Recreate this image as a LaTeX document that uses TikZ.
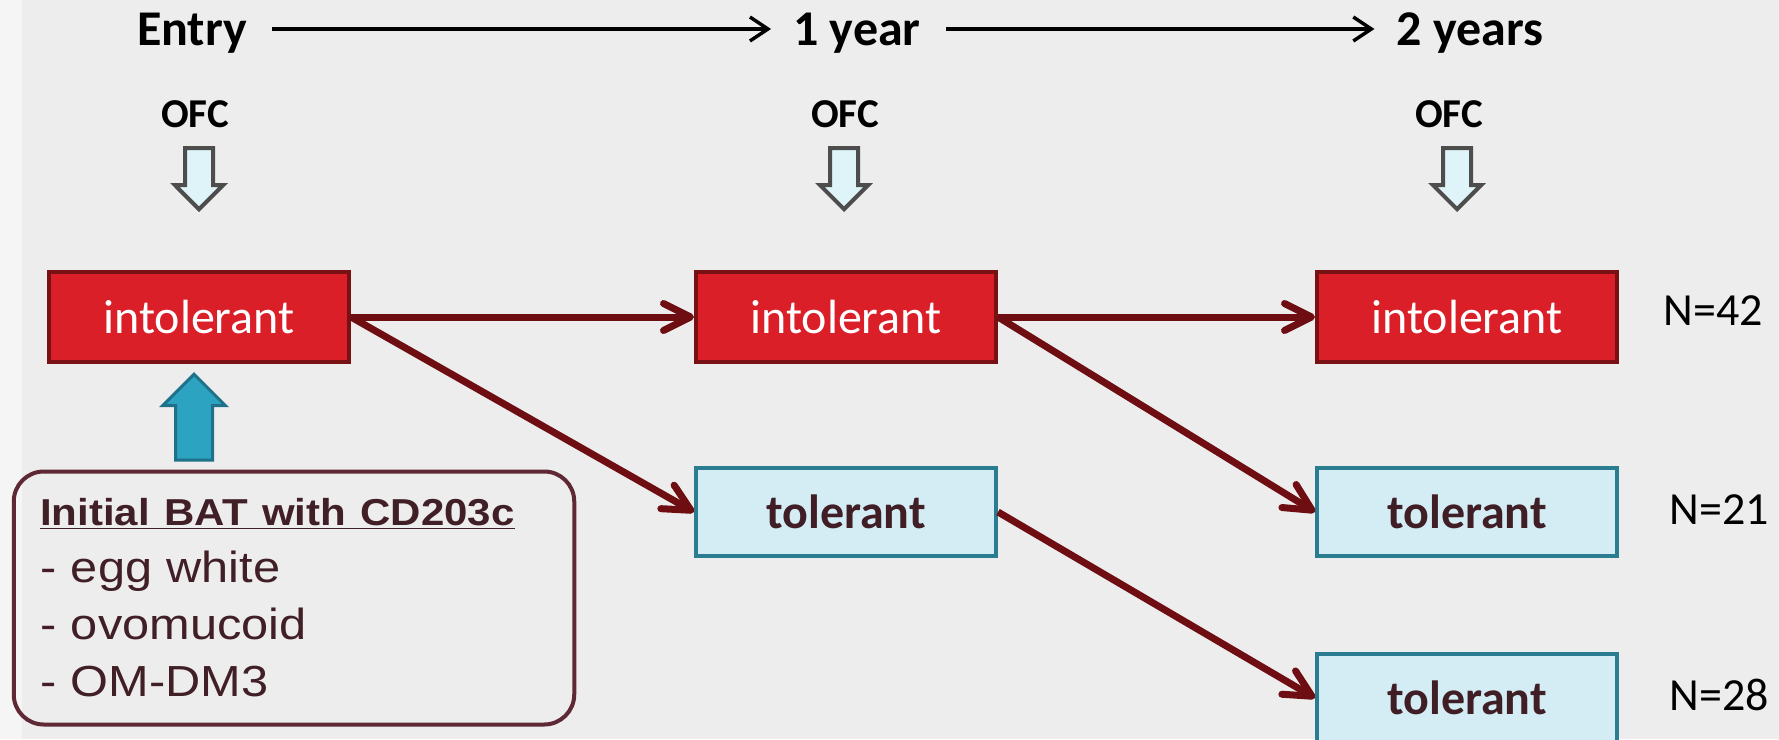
\documentclass[tikz,border=0pt]{standalone}
\usepackage{fontspec}
\setmainfont{Carlito}
\newfontfamily\batfont{Liberation Sans}[FakeStretch=1.12]
\usetikzlibrary{arrows.meta,shapes.arrows}

\definecolor{bgcol}{RGB}{238,237,238}
\definecolor{bgleft}{RGB}{245,245,245}
\definecolor{redfill}{RGB}{218,31,40}
\definecolor{redline}{RGB}{120,17,20}
\definecolor{flowcol}{RGB}{110,14,18}
\definecolor{tolfill}{RGB}{212,237,245}
\definecolor{tolline}{RGB}{42,125,144}
\definecolor{toltext}{RGB}{63,30,38}
\definecolor{batline}{RGB}{94,40,52}
\definecolor{battext}{RGB}{64,31,38}
\definecolor{upfill}{RGB}{44,163,193}
\definecolor{upline}{RGB}{31,113,137}
\definecolor{ofcfill}{RGB}{222,244,249}
\definecolor{ofcline}{RGB}{77,77,77}

\begin{document}
\begin{tikzpicture}[x=1pt, y=-1pt, >={Straight Barb[length=18pt,width=24pt]}]
  \tikzstyle{every node}=[inner sep=0pt]
  \tikzstyle{stage}=[font=\bfseries\fontsize{50}{60}\selectfont, text depth=0pt]
  \tikzstyle{ofc}=[font=\bfseries\fontsize{41}{49}\selectfont, text depth=0pt]
  \tikzstyle{check}=[single arrow, rotate=-90, anchor=tip, draw=ofcline, fill=ofcfill, line width=4pt,
                     inner sep=12pt, single arrow head extend=10pt, minimum height=61pt, minimum width=0pt]
  \tikzstyle{intol}=[draw=redline, fill=redfill, line width=4pt, minimum width=300pt, minimum height=90pt,
                     text=white, font=\fontsize{48}{58}\selectfont]
  \tikzstyle{tol}=[draw=tolline, fill=tolfill, line width=4pt, minimum width=300pt, minimum height=88pt,
                   text=toltext, font=\bfseries\fontsize{48}{58}\selectfont]
  \tikzstyle{count}=[font=\fontsize{46}{55}\selectfont, text depth=0pt]
  \tikzstyle{flow}=[flowcol, line width=7pt, -{Straight Barb[length=27pt,width=27pt,round]}]

  \useasboundingbox (0,0) rectangle (1779,739);
  \fill[bgcol] (0,0) rectangle (1779,739);
  \fill[bgleft] (0,0) rectangle (22,739);

  % time line
  \node[stage] (entry) at (192,29)  {Entry};
  \node[stage] (yr1)   at (857,29)  {1 year};
  \node[stage] (yr2)   at (1470,29) {2 years};
  \draw[->, line width=3.5pt, shorten <=25pt, shorten >=22pt] (entry) -- (yr1);
  \draw[->, line width=3.5pt, shorten <=25pt, shorten >=22pt] (yr1) -- (yr2);

  % food challenges
  \node[ofc] (ofc0) at (195,114)  {OFC};
  \node[ofc] (ofc1) at (845,114)  {OFC};
  \node[ofc] (ofc2) at (1449,114) {OFC};
  \node[check] (chk0) at (199,212)  {};
  \node[check] (chk1) at (844,212)  {};
  \node[check] (chk2) at (1457,212) {};

  % outcomes
  \node[intol] (in0)  at (199,317)  {intolerant};
  \node[intol] (in1)  at (846,317)  {intolerant};
  \node[intol] (in2)  at (1467,317) {intolerant};
  \node[tol]   (tol1) at (846,512)  {tolerant};
  \node[tol]   (tol2) at (1467,512) {tolerant};
  \node[tol]   (tol3) at (1467,698) {tolerant};

  \node[count] (n42) at (1713,311) {N=42};
  \node[count] (n21) at (1719,510) {N=21};
  \node[count] (n28) at (1719,695) {N=28};

  % basophil test
  \node[single arrow, rotate=90, anchor=tip, draw=upline, fill=upfill, line width=3pt, inner sep=17pt,
        single arrow head extend=13pt, minimum height=86pt, minimum width=0pt] (up) at (194,372) {};
  \node[draw=batline, line width=4pt, rounded corners=30pt, text width=507.5pt, inner xsep=26.5pt,
        minimum height=253pt, align=left, text=battext, font=\batfont\fontsize{43.5}{57}\selectfont]
        (bat) at (294,598)
        {{\fontsize{37.5}{57}\selectfont\bfseries\underline{Initial BAT with CD203c}}\\
         - egg white\\ - ovomucoid\\ - OM-DM3};

  \path[flow] (in0) edge (in1)
              (in0.east) edge (tol1.west)
              (in1) edge (in2)
              (in1.east) edge (tol2.west)
              (tol1.east) edge (tol3.west);
\end{tikzpicture}
\end{document}
